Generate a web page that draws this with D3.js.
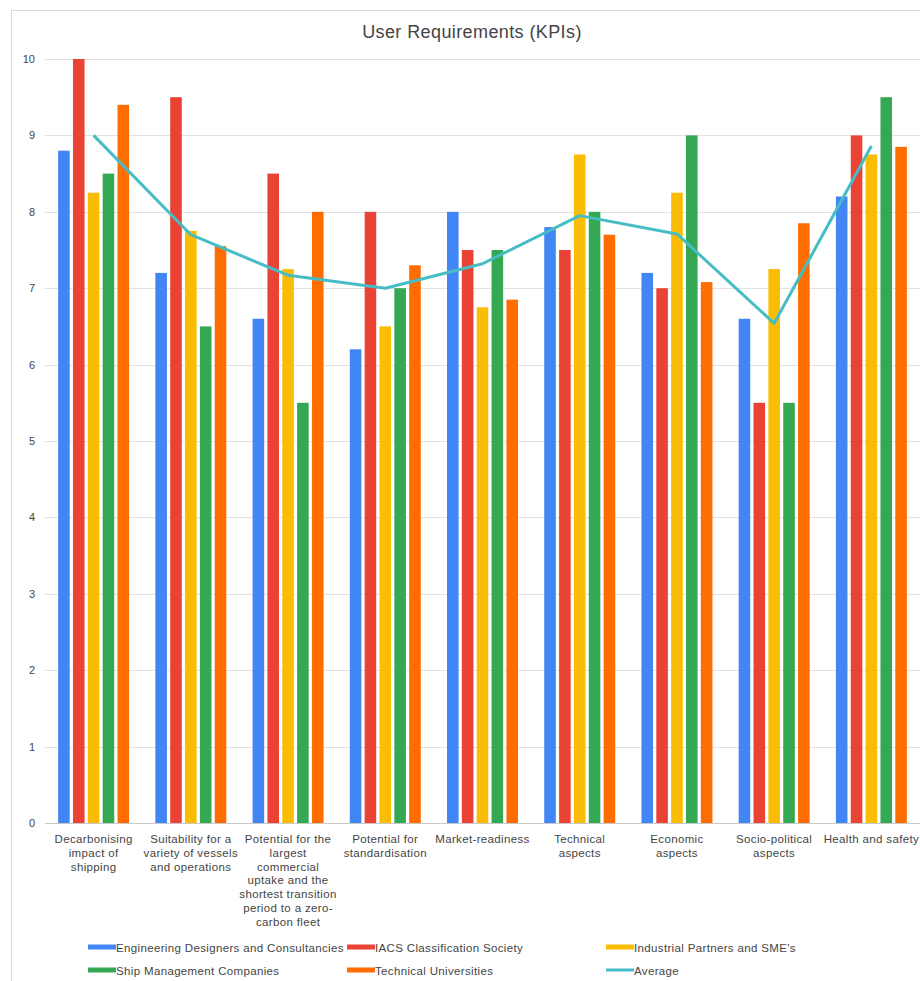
<!DOCTYPE html>
<html>
<head>
<meta charset="utf-8">
<script src="https://cdn.jsdelivr.net/npm/d3@7"></script>
<style>
  body { margin: 0; background: #fff; }
  text { font-family: Arial, "Liberation Sans", sans-serif; }
</style>
</head>
<body>
<div id="chart"></div>
<script>
const categories = [
  ['Decarbonising', 'impact of', 'shipping'],
  ['Suitability for a', 'variety of vessels', 'and operations'],
  ['Potential for the', 'largest', 'commercial', 'uptake and the', 'shortest transition', 'period to a zero-', 'carbon fleet'],
  ['Potential for', 'standardisation'],
  ['Market-readiness'],
  ['Technical', 'aspects'],
  ['Economic', 'aspects'],
  ['Socio-political', 'aspects'],
  ['Health and safety']
];

const engineering = [8.8, 7.2, 6.6, 6.2, 8.0, 7.8, 7.2, 6.6, 8.2];
const iacs        = [10, 9.5, 8.5, 8.0, 7.5, 7.5, 7.0, 5.5, 9.0];
const industrial  = [8.25, 7.75, 7.25, 6.5, 6.75, 8.75, 8.25, 7.25, 8.75];
const shipMgmt    = [8.5, 6.5, 5.5, 7.0, 7.5, 8.0, 9.0, 5.5, 9.5];
const technical   = [9.4, 7.55, 8.0, 7.3, 6.85, 7.7, 7.08, 7.85, 8.85];
const average     = [9.0, 7.7, 7.17, 7.0, 7.32, 7.95, 7.71, 6.54, 8.86];

const seriesNames = ['Engineering Designers and Consultancies', 'IACS Classification Society',
  "Industrial Partners and SME's", 'Ship Management Companies', 'Technical Universities'];
const seriesColors = ['#4285f4', '#ea4335', '#fbbc04', '#34a853', '#ff6d01'];
const averageColor = '#46bdc6';
const yTicks = [0, 1, 2, 3, 4, 5, 6, 7, 8, 9, 10];

const series = [engineering, iacs, industrial, shipMgmt, technical];

const W = 920, H = 981;
const svg = d3.select('#chart').append('svg').attr('width', W).attr('height', H);

// frame
svg.append('rect').attr('x', 11.5).attr('y', 10.5).attr('width', W).attr('height', H)
  .attr('fill', '#fff').attr('stroke', '#d9d9d9');

svg.append('text').attr('x', 472).attr('y', 38).attr('text-anchor', 'middle')
  .attr('font-size', 18).attr('letter-spacing', 0.4).attr('fill', '#444').text('User Requirements (KPIs)');

const plotLeft = 45, plotRight = 920, plotTop = 59, plotBottom = 823;
const y = d3.scaleLinear().domain([0, 10]).range([plotBottom, plotTop]);
const x0 = d3.scaleBand().domain(d3.range(categories.length)).range([plotLeft, plotRight]).paddingInner(0.27).paddingOuter(0.135);
const x1 = d3.scaleBand().domain(d3.range(series.length)).range([0, x0.bandwidth()]).padding(0.22).paddingOuter(0);

// gridlines + ticks
const grid = svg.append('g');
grid.selectAll('line').data(yTicks).join('line')
  .attr('x1', plotLeft).attr('x2', W).attr('y1', d => Math.round(y(d)) + 0.5).attr('y2', d => Math.round(y(d)) + 0.5)
  .attr('stroke', d => d === 0 ? '#c8c8c8' : '#e2e2e2');
grid.selectAll('text').data(yTicks).join('text')
  .attr('x', 35).attr('y', d => y(d) + 4).attr('text-anchor', 'end')
  .attr('font-size', 11).attr('fill', '#444').text(d => d);

// bars
const groups = svg.append('g').selectAll('g').data(categories).join('g')
  .attr('transform', (d, i) => `translate(${x0(i)},0)`);
groups.selectAll('rect').data((d, i) => series.map((s, j) => ({ j, v: s[i] }))).join('rect')
  .attr('x', d => x1(d.j)).attr('width', x1.bandwidth())
  .attr('y', d => y(d.v)).attr('height', d => y(0) - y(d.v))
  .attr('fill', d => seriesColors[d.j]);

// average line
const line = d3.line().x((d, i) => x0(i) + x0.bandwidth() / 2).y(d => y(d));
svg.append('path').datum(average).attr('d', line)
  .attr('fill', 'none').attr('stroke', averageColor).attr('stroke-width', 3).attr('stroke-linejoin', 'round');

// category labels
const labels = svg.append('g').selectAll('text').data(categories).join('text')
  .attr('x', (d, i) => x0(i) + x0.bandwidth() / 2).attr('y', 843)
  .attr('text-anchor', 'middle').attr('font-size', 11.5).attr('letter-spacing', 0.35).attr('fill', '#444');
labels.selectAll('tspan').data(d => d).join('tspan')
  .attr('x', function () { return this.parentNode.getAttribute('x'); })
  .attr('dy', (d, i) => i === 0 ? 0 : 13.8).text(d => d);

// legend
const legendItems = seriesNames.map((n, i) => ({ name: n, color: seriesColors[i], line: false }))
  .concat([{ name: 'Average', color: averageColor, line: true }]);
const legend = svg.append('g').selectAll('g').data(legendItems).join('g')
  .attr('transform', (d, i) => `translate(${88 + (i % 3) * 259},${947 + Math.floor(i / 3) * 23})`);
legend.append('rect').attr('x', 0).attr('y', d => d.line ? -1.5 : -2.5).attr('width', 28)
  .attr('height', d => d.line ? 3 : 5).attr('fill', d => d.color);
legend.append('text').attr('x', 28).attr('y', 4.5).attr('font-size', 11.5).attr('letter-spacing', 0.35)
  .attr('fill', '#444').text(d => d.name);
</script>
</body>
</html>
